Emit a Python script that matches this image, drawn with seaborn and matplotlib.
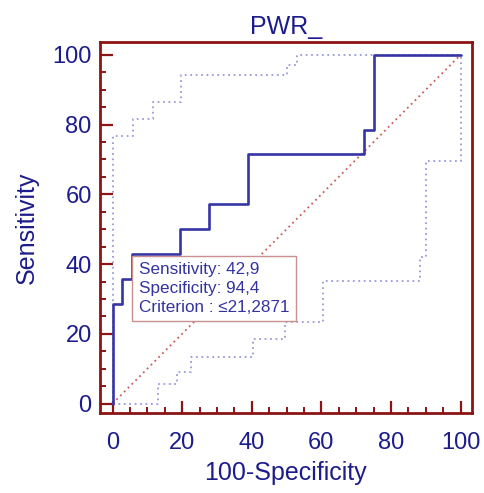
import matplotlib
matplotlib.use("Agg")
import matplotlib.pyplot as plt
import seaborn as sns
import pandas as pd
from matplotlib.ticker import MultipleLocator

# ---- data ----
roc_fpr = [0, 2.78, 5.56, 19.44, 27.78, 38.89, 72.22, 75.0, 100]
roc_tpr = [0, 28.57, 35.71, 42.86, 50.0, 57.14, 71.43, 78.57, 100]

upper_fpr = [0, 6.0, 11.5, 19.7, 50.0, 53.0, 100]
upper_tpr = [0, 76.6, 81.6, 86.6, 94.3, 97.1, 100]

lower_fpr = [0, 13.2, 18.6, 22.5, 40.3, 49.5, 60.6, 88.4, 90.0, 100]
lower_tpr = [0, 5.6, 9.0, 13.3, 18.4, 23.3, 35.1, 41.9, 69.6, 100]

diag = [0, 100]

title = "PWR_"
xlabel = "100-Specificity"
ylabel = "Sensitivity"
ticks = [0, 20, 40, 60, 80, 100]
box_lines = ["Sensitivity: 42,9", "Specificity: 94,4", "Criterion : \u226421,2871"]
criterion_point = (5.56, 42.86)

# ---- style ----
sns.set_theme(style="white")
plt.rcParams['font.family'] = ['Liberation Sans', 'DejaVu Sans']

RED = "#8c1414"
NAVY = "#1c1c8c"
LINE = "#3535a5"
CI = "#9a9ad8"
DIAG = "#cc5a5a"

fig = plt.figure(figsize=(4.84, 4.93), dpi=100)
ax = fig.add_axes([0.2066, 0.1623, 0.9746 - 0.2066, 0.9142 - 0.1623])

df_roc = pd.DataFrame({"fpr": roc_fpr, "tpr": roc_tpr})
df_up = pd.DataFrame({"fpr": upper_fpr, "tpr": upper_tpr})
df_lo = pd.DataFrame({"fpr": lower_fpr, "tpr": lower_tpr})
df_diag = pd.DataFrame({"x": diag, "y": diag})

sns.lineplot(data=df_diag, x="x", y="y", ax=ax, color=DIAG, lw=1.3,
             linestyle=(0, (1, 2.0)), estimator=None, zorder=2)
sns.lineplot(data=df_up, x="fpr", y="tpr", ax=ax, color=CI, lw=1.3,
             linestyle=(0, (1, 2.0)), drawstyle="steps-pre", estimator=None, zorder=2)
sns.lineplot(data=df_lo, x="fpr", y="tpr", ax=ax, color=CI, lw=1.3,
             linestyle=(0, (1, 2.0)), drawstyle="steps-post", estimator=None, zorder=2)
sns.lineplot(data=df_roc, x="fpr", y="tpr", ax=ax, color=LINE, lw=1.9,
             drawstyle="steps-pre", estimator=None, zorder=3)

ax.set_xlim(-3.6, 103.2)
ax.set_ylim(-2.7, 103.6)
ax.set_xticks(ticks)
ax.set_yticks(ticks)
ax.xaxis.set_minor_locator(MultipleLocator(5))
ax.yaxis.set_minor_locator(MultipleLocator(5))

for s in ax.spines.values():
    s.set_visible(True)
    s.set_color(RED)
    s.set_linewidth(2.0)

ax.tick_params(which="both", direction="in", color=RED, left=True, bottom=True,
               top=False, right=False)
ax.tick_params(which="major", length=9, width=1.6)
ax.tick_params(which="minor", length=4.5, width=1.4)
ax.tick_params(axis="x", which="major", labelsize=17, labelcolor=NAVY, pad=14)
ax.tick_params(axis="y", which="major", labelsize=17, labelcolor=NAVY, pad=6)

ax.set_xlabel(xlabel, fontsize=18, color=NAVY, labelpad=5)
ax.set_ylabel(ylabel, fontsize=18, color=NAVY, labelpad=10)
ax.set_title(title, fontsize=18, color=NAVY, pad=6)
ax.grid(False)

ax.annotate("\n".join(box_lines), xy=criterion_point, xycoords="data",
            xytext=(5, -6), textcoords="offset points",
            ha="left", va="top", fontsize=12.3, color="#3333a0", linespacing=1.3,
            bbox=dict(boxstyle="square,pad=0.4", fc="white", ec="#c89090", lw=1.0),
            zorder=5)

fig.savefig("out.png", dpi=100)
